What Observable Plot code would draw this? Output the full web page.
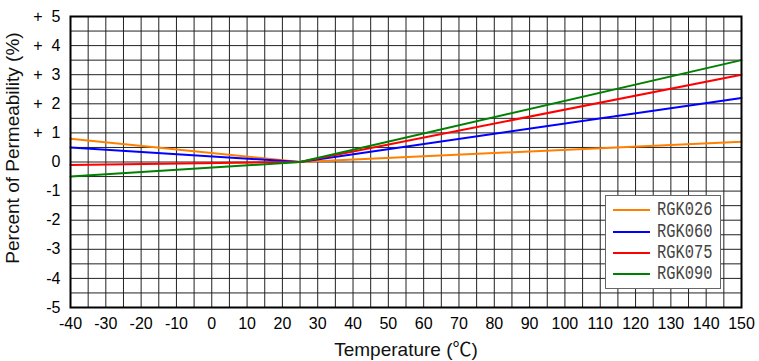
<!DOCTYPE html>
<html>
<head>
<meta charset="utf-8">
<script src="https://cdn.jsdelivr.net/npm/d3@7"></script>
<script src="https://cdn.jsdelivr.net/npm/@observablehq/plot@0.6"></script>
<style>
  html, body { margin: 0; padding: 0; background: #fff; }
  #wrap { position: relative; width: 759px; height: 361px; }
  #legend { position: absolute; left: 605px; top: 195px; width: 116px; height: 94px;
            box-sizing: border-box; border: 1px solid #666; background: #fff; }
  .lg-line { position: absolute; left: 7px; width: 37px; height: 2px; }
  .lg-text { position: absolute; left: 51px; font-family: "Liberation Mono", "DejaVu Sans Mono", monospace;
             font-size: 20px; color: #444; line-height: 20px; transform: scaleX(0.77); transform-origin: left center;
             white-space: nowrap; }
</style>
</head>
<body>
<div id="wrap"></div>
<script>
// ---- data ----
const temps = [-40, 25, 150];
const rgk026 = [0.8, 0, 0.7];
const rgk060 = [0.5, 0, 2.2];
const rgk075 = [-0.1, 0, 3.0];
const rgk090 = [-0.5, 0, 3.5];
const seriesNames = ["RGK026", "RGK060", "RGK075", "RGK090"];
const seriesColors = ["#ff8000", "#0000ff", "#ff0000", "#008000"];
const xTicks = [-40, -30, -20, -10, 0, 10, 20, 30, 40, 50, 60, 70, 80, 90, 100, 110, 120, 130, 140, 150];
const yTicks = [-5, -4, -3, -2, -1, 0, 1, 2, 3, 4, 5];
const xLabel = "Temperature (\u2103)";
const yLabel = "Percent of Permeability (%)";

const seriesValues = [rgk026, rgk060, rgk075, rgk090];
const rows = [];
seriesNames.forEach((s, i) => temps.forEach((t, j) => rows.push({series: s, t, v: seriesValues[i][j]})));

const xGrid = d3.range(-40, 151, 5);
const yGrid = d3.range(-5, 5.01, 0.5);

const chart = Plot.plot({
  width: 759, height: 361,
  marginLeft: 70, marginRight: 18, marginTop: 16, marginBottom: 54,
  style: {fontFamily: "'Liberation Sans', 'Noto Sans CJK SC', Arial, sans-serif", fontSize: "16px", color: "#000", background: "#fff"},
  x: {domain: [-40, 150]},
  y: {domain: [-5, 5]},
  color: {domain: seriesNames, range: seriesColors},
  marks: [
    Plot.ruleX(xGrid, {stroke: "#222", strokeWidth: 1}),
    Plot.ruleY(yGrid, {stroke: "#222", strokeWidth: 1}),
    Plot.line(rows, {x: "t", y: "v", z: "series", stroke: "series", strokeWidth: 2}),
    Plot.frame({stroke: "#000", strokeWidth: 2}),
    Plot.axisX({ticks: xTicks, tickSize: 0, tickPadding: 10, label: null, fontSize: 16, tickFormat: d => String(d)}),
    Plot.axisY({ticks: yTicks, tickSize: 0, tickPadding: 10, label: null, fontSize: 16,
      tickFormat: d => d > 0 ? "+\u00a0\u00a0" + d : String(d)}),
    Plot.text([yLabel], {text: d => d, frameAnchor: "left", dx: -58, dy: -14, rotate: -90, fontSize: 19,
      textAnchor: "middle", lineAnchor: "middle", fill: "#111"}),
    Plot.text([xLabel], {text: d => d, frameAnchor: "bottom", dy: 42, fontSize: 19, textAnchor: "middle",
      lineAnchor: "middle", fill: "#111"})
  ]
});
const wrap = document.getElementById("wrap");
wrap.appendChild(chart);

// legend overlay
const legend = document.createElement("div");
legend.id = "legend";
const rowCenters = [14, 36, 57, 78];
seriesNames.forEach((s, i) => {
  const ln = document.createElement("div");
  ln.className = "lg-line";
  ln.style.top = (rowCenters[i] - 1) + "px";
  ln.style.background = seriesColors[i];
  legend.appendChild(ln);
  const tx = document.createElement("div");
  tx.className = "lg-text";
  tx.style.top = (rowCenters[i] - 10) + "px";
  tx.textContent = s;
  legend.appendChild(tx);
});
wrap.appendChild(legend);
</script>
</body>
</html>
